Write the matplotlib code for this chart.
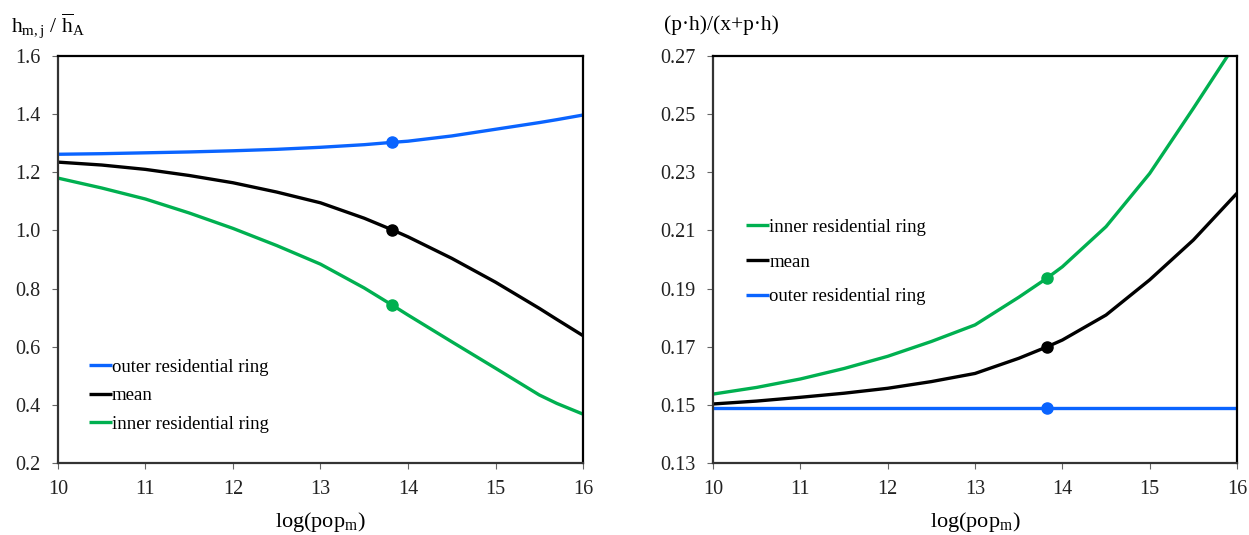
import matplotlib
matplotlib.use("Agg")
import matplotlib.pyplot as plt

plt.rcParams['font.family'] = ['Liberation Serif', 'DejaVu Serif']
plt.rcParams['mathtext.fontset'] = 'custom'
plt.rcParams['mathtext.rm'] = 'Liberation Serif'
plt.rcParams['mathtext.it'] = 'Liberation Serif'

# left panel: relative housing per ring
x_left = [10, 10.5, 11, 11.5, 12, 12.5, 13, 13.5, 13.82, 14, 14.5, 15, 15.5, 15.7, 16]
outer_left = [1.262, 1.264, 1.267, 1.270, 1.274, 1.279, 1.286, 1.295, 1.303, 1.307,
              1.325, 1.348, 1.371, 1.381, 1.397]
mean_left = [1.235, 1.225, 1.210, 1.189, 1.164, 1.132, 1.095, 1.042, 1.002, 0.978,
             0.904, 0.822, 0.732, 0.694, 0.638]
inner_left = [1.180, 1.146, 1.108, 1.060, 1.007, 0.948, 0.884, 0.802, 0.743, 0.709,
              0.617, 0.526, 0.434, 0.405, 0.368]

# right panel: housing expenditure share
x_right = [10, 10.5, 11, 11.5, 12, 12.5, 13, 13.5, 13.82, 14, 14.5, 15, 15.5, 16]
outer_right = [0.1488] * len(x_right)
mean_right = [0.1503, 0.1513, 0.1526, 0.1540, 0.1557, 0.1580, 0.1608, 0.1660, 0.1699,
              0.1723, 0.1809, 0.1930, 0.2067, 0.2228]
inner_right = [0.1537, 0.1560, 0.1589, 0.1625, 0.1667, 0.1718, 0.1775, 0.1870, 0.1935,
               0.1975, 0.2113, 0.2296, 0.2520, 0.2750]

marker_x = 13.82
BLUE = '#0a64ff'
GREEN = '#00b050'
BLACK = '#000000'


def draw_curve(ax, x, y, color, label):
    ax.plot(x, y, color=color, lw=2.4, label=label, solid_capstyle='butt',
            solid_joinstyle='round')
    i = x.index(marker_x)
    ax.plot([x[i]], [y[i]], 'o', color=color, ms=8)


def style_axes(ax):
    ax.set_xlim(10, 16)
    ax.set_xticks(range(10, 17))
    ax.tick_params(labelsize=14.5, direction='out', length=4, width=0.8, pad=8.5,
                   colors='#666666', labelcolor='#222222')
    for s in ax.spines.values():
        s.set_linewidth(1.6)
        s.set_color('black')
    ax.spines['left'].set_color('#333333')
    ax.spines['bottom'].set_color('#333333')
    ax.set_xlabel(r'log(pop$_\mathregular{m}$)', fontsize=16, labelpad=7.5)


fig = plt.figure(figsize=(12.49, 5.35), dpi=100)
ax1 = fig.add_axes([0.0464, 0.1346, 0.4204, 0.7607])
ax2 = fig.add_axes([0.5709, 0.1346, 0.4195, 0.7607])

draw_curve(ax1, x_left, outer_left, BLUE, 'outer residential ring')
draw_curve(ax1, x_left, mean_left, BLACK, 'mean')
draw_curve(ax1, x_left, inner_left, GREEN, 'inner residential ring')
style_axes(ax1)
ax1.set_ylim(0.2, 1.6)
ax1.set_yticks([0.2, 0.4, 0.6, 0.8, 1.0, 1.2, 1.4, 1.6])
ax1.set_yticklabels(['%.1f' % v for v in ax1.get_yticks()])
ax1.legend(loc='center left', bbox_to_anchor=(0.044, 0.165), frameon=False,
           fontsize=13.5, handlelength=1.25, handletextpad=0.0,
           labelspacing=0.6, borderaxespad=0)

draw_curve(ax2, x_right, inner_right, GREEN, 'inner residential ring')
draw_curve(ax2, x_right, mean_right, BLACK, 'mean')
draw_curve(ax2, x_right, outer_right, BLUE, 'outer residential ring')
style_axes(ax2)
ax2.set_ylim(0.13, 0.27)
ax2.set_yticks([0.13, 0.15, 0.17, 0.19, 0.21, 0.23, 0.25, 0.27])
ax2.set_yticklabels(['%.2f' % v for v in ax2.get_yticks()])
ax2.legend(loc='center left', bbox_to_anchor=(0.048, 0.494), frameon=False,
           fontsize=13.5, handlelength=1.25, handletextpad=0.0,
           labelspacing=0.95, borderaxespad=0)

fig.text(0.009, 0.953, r'h$_\mathregular{m,j}$ / $\overline{\mathregular{h}}_\mathregular{A}$',
         fontsize=15.5, va='center')
fig.text(0.532, 0.953, '(p\u00b7h)/(x+p\u00b7h)', fontsize=15.5, va='center')

fig.savefig('out.png', dpi=100)
